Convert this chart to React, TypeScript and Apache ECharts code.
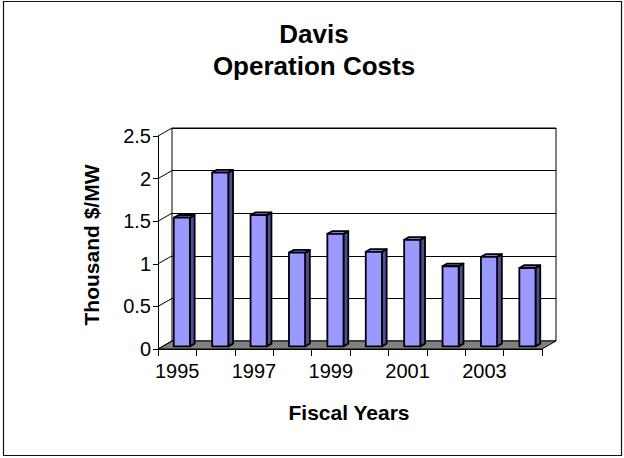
import React, { useEffect, useRef } from "react";
import * as echarts from "echarts";

const categories = ["1995", "1996", "1997", "1998", "1999", "2000", "2001", "2002", "2003", "2004"];
const costs = [1.51, 2.04, 1.54, 1.1, 1.32, 1.11, 1.25, 0.94, 1.05, 0.92];
const yTicks = [0, 0.5, 1, 1.5, 2, 2.5];
const titleLines = ["Davis", "Operation Costs"];
const xName = "Fiscal Years";
const yName = "Thousand $/MW";

const DX = 14;
const DY = -8;
const FONT = "'Liberation Sans', Arial, sans-serif";

export default function App() {
  const ref = useRef<HTMLDivElement>(null);
  useEffect(() => {
    if (!ref.current) return;
    const chart = echarts.init(ref.current, undefined, { renderer: "svg" });

    const barRender = (params: any, api: any) => {
      const i = api.value(0);
      const v = api.value(1);
      const top = api.coord([i, v]);
      const base = api.coord([i, 0]);
      const w = api.size([1, 0])[0] * 0.42;
      const f1 = 0.33;
      const f2 = 0.67;
      const x0 = top[0] - w / 2 + DX * f1;
      const x1 = x0 + w;
      const yT = top[1] + DY * f1;
      const yB = base[1] + DY * f1;
      const bx = DX * (f2 - f1);
      const by = DY * (f2 - f1);
      const stroke = { stroke: "#000", lineWidth: 1.8, lineJoin: "round" };
      return {
        type: "group",
        children: [
          {
            type: "polygon",
            shape: { points: [[x1, yT], [x1 + bx, yT + by], [x1 + bx, yB + by], [x1, yB]] },
            style: { fill: "#4d4d99", ...stroke },
          },
          {
            type: "polygon",
            shape: { points: [[x0, yT], [x1, yT], [x1 + bx, yT + by], [x0 + bx, yT + by]] },
            style: { fill: "#8080e6", ...stroke },
          },
          {
            type: "rect",
            shape: { x: x0, y: yT, width: w, height: yB - yT },
            style: { fill: "#9999ff", ...stroke },
          },
        ],
      };
    };

    const floorRender = (params: any, api: any) => {
      const cs = params.coordSys;
      const x0 = cs.x;
      const x1 = cs.x + cs.width;
      const y0 = api.coord([0, 0])[1];
      const children: any[] = [
        {
          type: "polygon",
          shape: { points: [[x0, y0], [x1, y0], [x1 + DX, y0 + DY], [x0 + DX, y0 + DY]] },
          style: { fill: "#808080", stroke: "#000", lineWidth: 1 },
        },
      ];
      yTicks.forEach((t) => {
        const y = api.coord([0, t])[1];
        children.push({
          type: "line",
          shape: { x1: x0, y1: y, x2: x0 + DX, y2: y + DY },
          style: { stroke: "#000", lineWidth: 1 },
        });
      });
      return { type: "group", children };
    };

    chart.setOption({
      animation: false,
      backgroundColor: "#fff",
      grid: [
        { left: 158, top: 136, width: 384, height: 213, show: false },
        {
          left: 172,
          top: 128,
          width: 384,
          height: 213,
          show: true,
          borderColor: "#000",
          borderWidth: 1,
          backgroundColor: "#fff",
        },
      ],
      xAxis: [
        {
          type: "category",
          gridIndex: 0,
          data: categories,
          boundaryGap: true,
          axisLine: { show: true, lineStyle: { color: "#000", width: 1 } },
          axisTick: { show: true, interval: 0, length: 7, lineStyle: { color: "#000" } },
          axisLabel: { interval: 1, fontSize: 20, fontFamily: FONT, color: "#000", margin: 12 },
        },
        { type: "category", gridIndex: 1, data: categories, show: false },
      ],
      yAxis: [
        {
          type: "value",
          gridIndex: 0,
          min: 0,
          max: 2.5,
          interval: 0.5,
          axisLine: { show: true, lineStyle: { color: "#000", width: 1 } },
          axisTick: { show: true, length: 5, lineStyle: { color: "#000" } },
          splitLine: { show: false },
          axisLabel: { fontSize: 20, fontFamily: FONT, color: "#000", margin: 7 },
        },
        {
          type: "value",
          gridIndex: 1,
          min: 0,
          max: 2.5,
          interval: 0.5,
          axisLine: { show: false },
          axisTick: { show: false },
          axisLabel: { show: false },
          splitLine: { show: true, lineStyle: { color: "#000", width: 1 } },
        },
      ],
      series: [
        {
          type: "custom",
          xAxisIndex: 0,
          yAxisIndex: 0,
          z: 2,
          clip: false,
          silent: true,
          renderItem: floorRender,
          data: [[0, 0]],
        },
        {
          type: "custom",
          name: "Operation Costs",
          xAxisIndex: 0,
          yAxisIndex: 0,
          z: 3,
          clip: false,
          renderItem: barRender,
          data: costs.map((v, i) => [i, v]),
        },
      ],
      graphic: [
        {
          type: "rect",
          z: -10,
          shape: { x: 3.5, y: 1.5, width: 618, height: 454 },
          style: { fill: "none", stroke: "#111", lineWidth: 1.2 },
        },
        {
          type: "text",
          x: 314,
          y: 34,
          style: { text: titleLines[0], font: `bold 26px ${FONT}`, fill: "#000", align: "center", verticalAlign: "middle" },
        },
        {
          type: "text",
          x: 314,
          y: 66,
          style: { text: titleLines[1], font: `bold 26px ${FONT}`, fill: "#000", align: "center", verticalAlign: "middle" },
        },
        {
          type: "text",
          x: 349,
          y: 412,
          style: { text: xName, font: `bold 21px ${FONT}`, fill: "#000", align: "center", verticalAlign: "middle" },
        },
        {
          type: "text",
          x: 91,
          y: 245,
          rotation: Math.PI / 2,
          style: { text: yName, font: `bold 21px ${FONT}`, fill: "#000", align: "center", verticalAlign: "middle" },
        },
      ],
    });
    return () => chart.dispose();
  }, []);
  return (
    <div
      ref={ref}
      style={{ position: "absolute", left: 0, top: 0, width: 624, height: 458 }}
    />
  );
}
